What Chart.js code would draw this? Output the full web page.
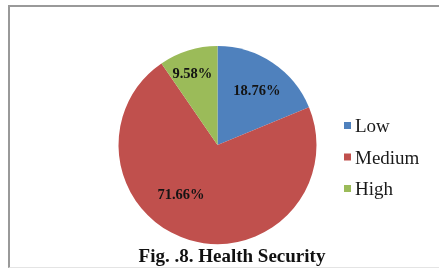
<!DOCTYPE html>
<html>
<head>
  <title>Health Security</title>
  <script src="https://cdn.jsdelivr.net/npm/chart.js"></script>
  <style>
    body {
      margin: 0;
      background: #fff;
      width: 439px;
      height: 268px;
      overflow: hidden;
      position: relative;
    }
    .frame {
      position: absolute;
      left: 8px;
      top: 5px;
      width: 450px;
      height: 260px;
      border-left: 2px solid #999;
      border-top: 2px solid #999;
      border-bottom: 1px solid #e4e4e4;
    }
    canvas {
      position: absolute;
      left: 0;
      top: 0;
    }
    .caption {
      position: absolute;
      left: 82px;
      width: 300px;
      top: 246px;
      text-align: center;
      font-family: "Liberation Serif", serif;
      font-weight: bold;
      font-size: 19px;
      line-height: 19px;
      color: #111;
    }
  </style>
</head>
<body>
  <div class="frame"></div>
  <canvas id="pieChart" width="439" height="268"></canvas>
  <div class="caption">Fig. .8. Health Security</div>

  <script>
    const categories = ['Low', 'Medium', 'High'];
    const shares = [18.76, 71.66, 9.58];
    const colors = ['#4F81BD', '#C0504D', '#9BBB59'];

    // where each percentage sits inside its slice (Excel "best fit" look)
    const labelRadius = [0.68, 0.62, 0.77];
    const labelShift = [2, 20, -2];

    const sliceLabels = {
      id: 'sliceLabels',
      afterDatasetsDraw(chart) {
        const ctx = chart.ctx;
        const meta = chart.getDatasetMeta(0);
        ctx.save();
        ctx.font = 'bold 14.5px "Liberation Serif"';
        ctx.fillStyle = '#141414';
        ctx.textAlign = 'center';
        ctx.textBaseline = 'alphabetic';
        meta.data.forEach((arc, i) => {
          const p = arc.getProps(['x', 'y', 'startAngle', 'endAngle', 'outerRadius'], true);
          const a = (p.startAngle + p.endAngle) / 2 + labelShift[i] * Math.PI / 180;
          const r = p.outerRadius * labelRadius[i];
          ctx.fillText(shares[i].toFixed(2) + '%', p.x + Math.cos(a) * r, p.y + Math.sin(a) * r + 5);
        });
        ctx.restore();
      }
    };

    const sideLegend = {
      id: 'sideLegend',
      afterDraw(chart) {
        const ctx = chart.ctx;
        const bg = chart.data.datasets[0].backgroundColor;
        ctx.save();
        ctx.font = '19px "Liberation Serif"';
        ctx.textBaseline = 'alphabetic';
        ctx.textAlign = 'left';
        chart.data.labels.forEach((lab, i) => {
          const base = 132 + i * 31.5;
          ctx.fillStyle = bg[i];
          ctx.fillRect(344, base - 10, 7, 7);
          ctx.fillStyle = '#1a1a1a';
          ctx.fillText(lab, 355, base);
        });
        ctx.restore();
      }
    };

    new Chart(document.getElementById('pieChart'), {
      type: 'pie',
      data: {
        labels: categories,
        datasets: [{
          data: shares,
          backgroundColor: colors,
          borderWidth: 0
        }]
      },
      options: {
        responsive: false,
        animation: false,
        devicePixelRatio: 1,
        layout: {
          padding: { left: 118, right: 122, top: 46, bottom: 24 }
        },
        plugins: {
          legend: { display: false },
          title: { display: false },
          tooltip: { enabled: false }
        }
      },
      plugins: [sliceLabels, sideLegend]
    });
  </script>
</body>
</html>
